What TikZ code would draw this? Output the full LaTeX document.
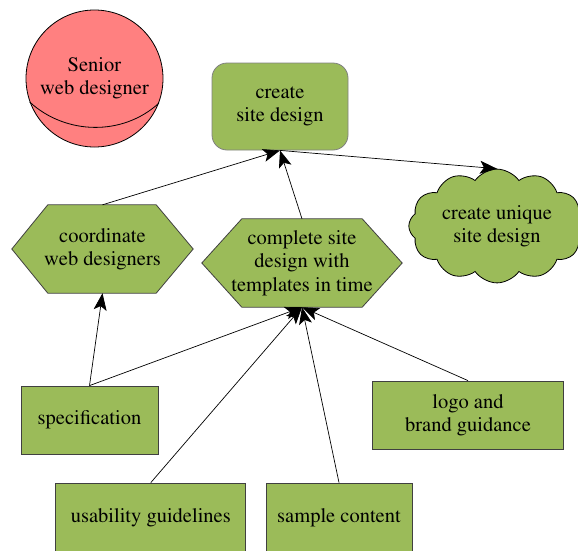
\documentclass[tikz,border=0pt]{standalone}
\usepackage[T1]{fontenc}
\usepackage{mathptmx}
\usetikzlibrary{shapes.geometric,shapes.symbols,arrows.meta,backgrounds}
\definecolor{leaf}{RGB}{155,187,89}
\definecolor{rose}{RGB}{255,128,128}
\definecolor{edgegray}{RGB}{64,64,64}
\tikzset{
  txt/.style={font=\rmfamily\fontsize{20.5}{23.3}\selectfont, align=center, text=black},
  box/.style={txt, draw=edgegray, fill=leaf, line width=0.8pt, rectangle, inner sep=0pt},
  hexnode/.style={txt, rectangle, inner sep=0pt},
  hexfill/.style={draw=edgegray, fill=leaf, line width=0.8pt},
  flow/.style={draw=black, line width=0.7pt,
    -{Stealth[length=17pt,width=13pt,inset=4pt]}}
}
\begin{document}
\begin{tikzpicture}[x=1pt,y=-1pt]
  \useasboundingbox (0,0) rectangle (578,550);
  \clip (0,0) rectangle (578,550);

  % role
  \node[txt, circle, draw=black, fill=rose, line width=0.8pt,
        minimum size=137pt, inner sep=0pt] (role) at (94.5,78.5)
        {\raisebox{-2pt}{\begin{tabular}{@{}c@{}}Senior\\web designer\end{tabular}}};
  \draw[line width=0.8pt] (role.200.5) .. controls +(36,33) and +(-36,33) .. (role.339.5);

  % goals
  \node[box, draw=gray, rounded corners=15pt, minimum width=136pt,
        minimum height=87pt] (csd) at (280,106.5) {create\\site design};
  \node[txt, cloud, cloud puffs=12, cloud puff arc=110, cloud ignores aspect=false,
        aspect=1.8, draw=black, fill=leaf, line width=0.8pt,
        inner xsep=5pt, inner ysep=-9pt] (cud) at (497,226) {create unique\\site design};

  % tasks (hexagons drawn behind their text nodes)
  \node[hexnode, minimum width=181pt, minimum height=88pt] (coord) at (102.5,249)
        {coordinate\\web designers};
  \node[hexnode, minimum width=200pt, minimum height=88pt] (comp) at (302,263)
        {complete site\\design with\\templates in time};
  \begin{scope}[on background layer]
    \draw[hexfill] (coord.west) -- ([xshift=36pt]coord.north west)
      -- ([xshift=-37pt]coord.north east) -- (coord.east)
      -- ([xshift=-37pt]coord.south east) -- ([xshift=36pt]coord.south west) -- cycle;
    \draw[hexfill] (comp.west) -- ([xshift=40pt]comp.north west)
      -- ([xshift=-40pt]comp.north east) -- (comp.east)
      -- ([xshift=-40pt]comp.south east) -- ([xshift=40pt]comp.south west) -- cycle;
  \end{scope}

  % resources
  \node[box, minimum width=137pt, minimum height=68pt] (spec) at (89.5,420)
        {specification};
  \node[box, minimum width=191pt, minimum height=68pt] (logo) at (468,415)
        {logo and\\brand guidance};
  \node[box, minimum width=190pt, minimum height=70pt] (usab) at (150.8,518)
        {usability guidelines};
  \node[box, minimum width=146pt, minimum height=70pt] (samp) at (339,518)
        {sample content};

  % links
  \draw[flow] (coord.north) -- (csd.south);
  \draw[flow] (comp.north) -- (csd.south);
  \draw[flow] (csd.south) -- (cud.north);
  \draw[flow] (spec.north) -- (coord.south);
  \draw[flow] (spec.north) -- (comp.south);
  \draw[flow] (usab.north) -- (comp.south);
  \draw[flow] (samp.north) -- (comp.south);
  \draw[flow] (logo.north) -- (comp.south);
\end{tikzpicture}
\end{document}
